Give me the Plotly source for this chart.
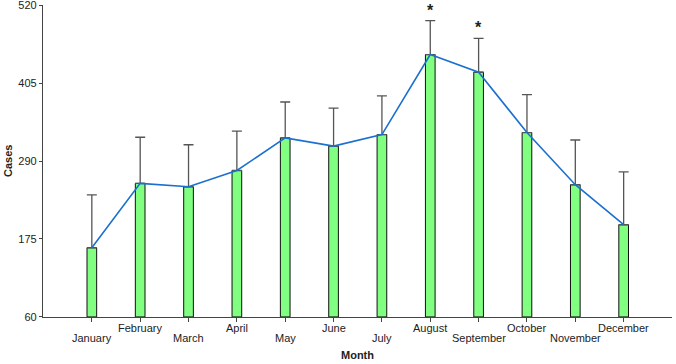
import plotly.graph_objects as go

months = ["January", "February", "March", "April", "May", "June", "July",
          "August", "September", "October", "November", "December"]
cases = [162, 257, 252, 276, 324, 312, 329, 447, 421, 332, 255, 196]
upper = [240, 325, 314, 334, 377, 368, 386, 497, 471, 388, 321, 274]
significant = [False]*7 + [True, True] + [False]*3
yticks = [60, 175, 290, 405, 520]

xs = list(range(len(months)))
err_plus = [u - c for u, c in zip(upper, cases)]

FONT = "Liberation Sans, Arial"

fig = go.Figure()
fig.add_trace(go.Bar(
    x=xs, y=[c - 60 for c in cases], base=60, width=0.2,
    marker=dict(color="#80ff80", line=dict(color="#111111", width=1)),
    error_y=dict(type="data", array=err_plus, arrayminus=[0]*12, symmetric=False,
                 color="#555555", thickness=1.3, width=5),
    showlegend=False, hoverinfo="skip", cliponaxis=False))
fig.add_trace(go.Scatter(
    x=xs, y=cases, mode="lines", line=dict(color="#1a6fd0", width=1.6),
    showlegend=False, hoverinfo="skip"))

annotations = []
for i, m in enumerate(months):
    annotations.append(dict(
        x=i, y=0, xref="x", yref="paper", text=m, showarrow=False,
        yanchor="top", yshift=-(13 if i % 2 == 0 else 3),
        font=dict(family=FONT, size=11, color="#222222")))
for i, s in enumerate(significant):
    if s:
        annotations.append(dict(
            x=i, y=upper[i], xref="x", yref="y", text="<b>*</b>", showarrow=False,
            yanchor="bottom", yshift=0,
            font=dict(family=FONT, size=16, color="#222222")))
annotations.append(dict(
    x=0.5, y=0, xref="paper", yref="paper", text="<b>Month</b>", showarrow=False,
    yanchor="top", yshift=-30,
    font=dict(family=FONT, size=11, color="#222222")))
annotations.append(dict(
    x=0, y=0.5, xref="paper", yref="paper", text="<b>Cases</b>", showarrow=False,
    xanchor="center", xshift=-35, textangle=-90,
    font=dict(family=FONT, size=11, color="#222222")))

fig.update_layout(
    width=676, height=364,
    margin=dict(l=43, r=4, t=5, b=47, autoexpand=False),
    plot_bgcolor="white", paper_bgcolor="white",
    annotations=annotations,
    xaxis=dict(range=[-1.01, 12], tickvals=xs, ticktext=[""]*12,
               ticks="outside", ticklen=4, tickcolor="#444444",
               showline=True, linecolor="#444444", linewidth=1.2,
               showgrid=False, zeroline=False, fixedrange=True, automargin=False),
    yaxis=dict(range=[59.9, 520.1], tickvals=yticks,
               ticks="outside", ticklen=3, tickcolor="#444444",
               showline=True, linecolor="#444444", linewidth=1.2,
               showgrid=False, zeroline=False, automargin=False,
               ticklabeloverflow="allow",
               tickfont=dict(family=FONT, size=11, color="#222222")),
)

fig.write_html("out.html", config={"displayModeBar": False},
               post_script="document.body.style.margin='0';document.body.style.overflow='hidden';")
